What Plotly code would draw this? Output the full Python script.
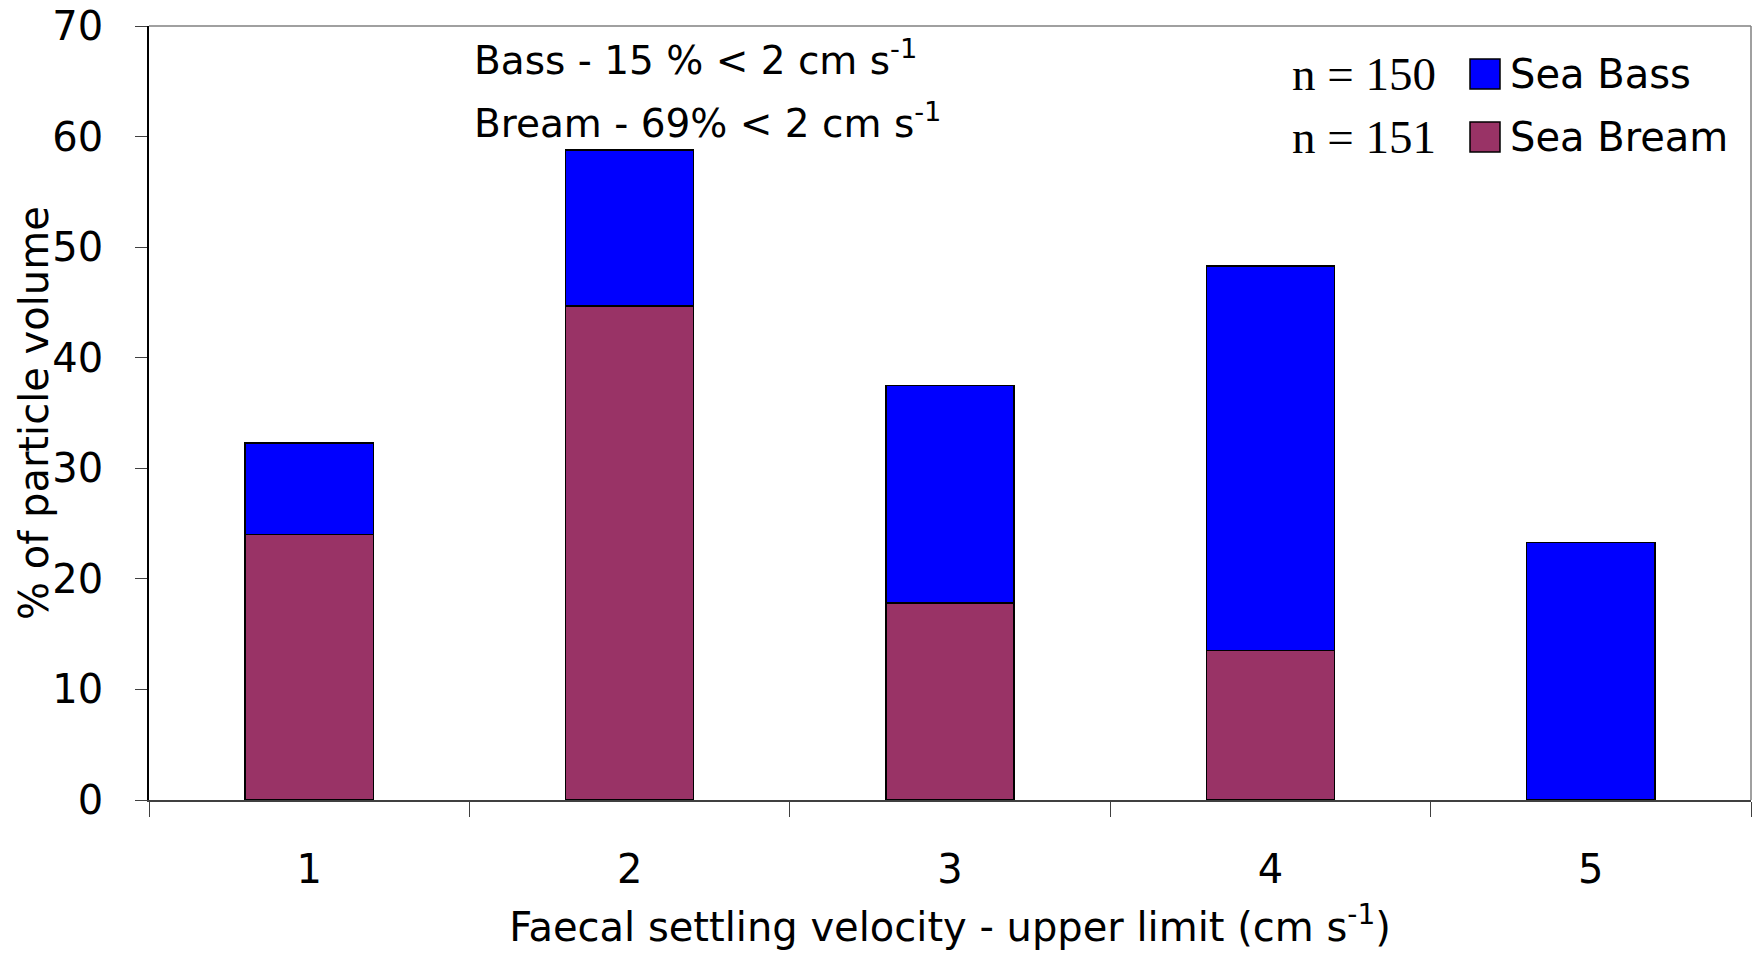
import plotly.graph_objects as go

categories = ["1", "2", "3", "4", "5"]
sea_bream = [24.0, 44.7, 17.8, 13.5, 0.0]
sea_bass = [8.3, 14.1, 19.7, 34.8, 23.3]
y_ticks = [0, 10, 20, 30, 40, 50, 60, 70]

BASS_COLOR = "#0000FF"
BREAM_COLOR = "#993366"
FONT = "DejaVu Sans"

# plot area in page pixels: x 149..1751, y 26..800 (body margin removed below)
L, R, T, B = 149, 8, 26, 158
W, H = 1759, 958
PW = W - L - R
PH = H - T - B


def px(xpage):
    return (xpage - L) / PW


def py(ypage):
    return (H - B - ypage) / PH


fig = go.Figure()
fig.add_trace(go.Bar(x=categories, y=sea_bream, name="Sea Bream",
                     marker=dict(color=BREAM_COLOR, line=dict(color="black", width=1.5)),
                     showlegend=False))
fig.add_trace(go.Bar(x=categories, y=sea_bass, name="Sea Bass",
                     marker=dict(color=BASS_COLOR, line=dict(color="black", width=1.5)),
                     showlegend=False))

fig.update_layout(
    width=W, height=H,
    barmode="stack", bargap=0.6,
    paper_bgcolor="white", plot_bgcolor="white",
    margin=dict(l=L, r=R, t=T, b=B, autoexpand=False),
    font=dict(family=FONT, color="black"),
    xaxis=dict(type="category", tickson="boundaries", ticks="outside", ticklen=15,
               tickcolor="#404040", showline=True, linecolor="#404040", linewidth=1.5,
               showgrid=False, tickfont=dict(size=40, family=FONT), ticklabelstandoff=33,
               automargin=False,
               title=dict(text="Faecal settling velocity - upper limit (cm s<sup>-1</sup>)",
                          font=dict(size=40, family=FONT), standoff=22)),
    yaxis=dict(range=[0, 70.0001], tickvals=y_ticks, ticks="outside", ticklen=12,
               tickcolor="#404040", showline=True, linecolor="black", linewidth=1.5,
               showgrid=False, zeroline=False, tickfont=dict(size=40, family=FONT),
               ticklabelstandoff=24, ticklabeloverflow="allow", automargin=False),
)

# y axis title placed precisely
fig.add_annotation(xref="paper", yref="paper", x=px(34), y=py(413),
                   text="% of particle volume", textangle=-90, showarrow=False,
                   xanchor="center", yanchor="middle", font=dict(size=40, family=FONT))

# plot frame (top and right)
fig.add_shape(type="line", xref="paper", yref="paper", x0=0, x1=1, y0=1, y1=1,
              line=dict(color="#808080", width=1.5))
fig.add_shape(type="line", xref="paper", yref="paper", x0=1, x1=1, y0=0, y1=1,
              line=dict(color="#808080", width=1.5))

# text annotations
fig.add_annotation(xref="paper", yref="paper", x=px(472), y=py(58),
                   text="Bass - 15 % < 2 cm s<sup>-1</sup>", showarrow=False,
                   xanchor="left", yanchor="middle", font=dict(size=39, family=FONT))
fig.add_annotation(xref="paper", yref="paper", x=px(472), y=py(121),
                   text="Bream - 69% < 2 cm s<sup>-1</sup>", showarrow=False,
                   xanchor="left", yanchor="middle", font=dict(size=39, family=FONT))

# legend (drawn manually to match the large swatches)
legend_items = [("Sea Bass", BASS_COLOR, "n = 150", 74), ("Sea Bream", BREAM_COLOR, "n = 151", 137)]
for name, color, ntext, ypix in legend_items:
    yc = py(ypix)
    half = 15 / PH
    fig.add_shape(type="rect", xref="paper", yref="paper",
                  x0=px(1470), x1=px(1500), y0=yc - half, y1=yc + half,
                  fillcolor=color, line=dict(color="black", width=1.5))
    fig.add_annotation(xref="paper", yref="paper", x=px(1508), y=yc,
                       text=name, showarrow=False, xanchor="left", yanchor="middle",
                       font=dict(size=40, family=FONT))
    fig.add_annotation(xref="paper", yref="paper", x=px(1438), y=yc,
                       text=ntext, showarrow=False, xanchor="right", yanchor="middle",
                       font=dict(size=47, family="Liberation Serif"))

fig.write_html("out.html", config={"displayModeBar": False},
               post_script="document.body.style.margin='0';")
